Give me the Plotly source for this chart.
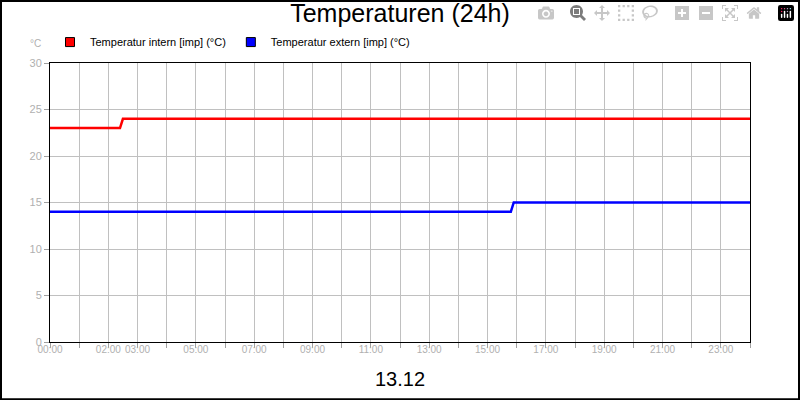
import plotly.graph_objects as go

intern_x = [0, 2.4, 2.5, 24]
intern_y = [23, 23, 24, 24]
extern_x = [0, 15.8, 15.9, 24]
extern_y = [14, 14, 15, 15]
tick_hours = [0, 2, 3, 5, 7, 9, 11, 13, 15, 17, 19, 21, 23]
tick_labels = ["00:00", "02:00", "03:00", "05:00", "07:00", "09:00", "11:00",
               "13:00", "15:00", "17:00", "19:00", "21:00", "23:00"]
names = ["Temperatur intern [imp] (°C)", "Temperatur extern [imp] (°C)"]
colors = ["#ff0000", "#0000ff"]

fig = go.Figure()
for xs, ys, c in [(intern_x, intern_y, colors[0]), (extern_x, extern_y, colors[1])]:
    fig.add_trace(go.Scatter(x=xs, y=ys, mode="lines", line=dict(color=c, width=2.5),
                             showlegend=False))
for n, c in zip(names, colors):
    fig.add_trace(go.Scatter(x=[None], y=[None], mode="markers", name=n,
                             marker=dict(symbol="square", size=9, color=c,
                                         line=dict(color="black", width=1))))

font = "Liberation Sans, Arial, sans-serif"
fig.update_layout(
    width=800, height=400,
    margin=dict(l=50, r=50, t=63, b=58),
    paper_bgcolor="white", plot_bgcolor="white",
    font=dict(family=font),
    title=dict(text="Temperaturen (24h)", x=0.5, xanchor="center", y=0.99, yanchor="top",
               font=dict(size=25, color="black", family=font)),
    showlegend=True,
    legend=dict(orientation="h", x=0.0, y=1.075, xanchor="left", yanchor="middle",
                font=dict(size=11, color="black"), itemwidth=30, tracegroupgap=0),
    xaxis=dict(range=[0, 24], dtick=1, tick0=0, showgrid=True, gridcolor="#c0c0c0",
               showticklabels=False, ticks="outside", ticklen=5, tickcolor="#a0a0a0",
               showline=True, linecolor="black", mirror=True, zeroline=False),
    xaxis2=dict(range=[0, 24], overlaying="x", side="bottom", tickmode="array",
                tickvals=tick_hours, ticktext=tick_labels, showgrid=False, tickangle=0,
                tickfont=dict(size=10, color="#b0b0b0"), showline=False, zeroline=False,
                ticklen=0, anchor="y"),
    yaxis=dict(range=[0, 30], dtick=5, showgrid=True, gridcolor="#c0c0c0",
               tickfont=dict(size=11, color="#b0b0b0"), ticks="outside", ticklen=5,
               tickcolor="#a0a0a0", showline=True, linecolor="black", mirror=True,
               zeroline=False),
    annotations=[
        dict(text="°C", x=-0.01, y=1.07, xref="paper", yref="paper", xanchor="right",
             yanchor="middle", showarrow=False, font=dict(size=10, color="#b0b0b0")),
        dict(text="13.12", x=0.5, y=-0.085, xref="paper", yref="paper", xanchor="center",
             yanchor="top", showarrow=False, font=dict(size=20, color="black")),
    ],
    shapes=[dict(type="rect", xref="paper", yref="paper", x0=-0.0700, x1=1.0700,
                 y0=-0.205, y1=1.222, line=dict(color="black", width=2))],
)
fig.add_trace(go.Scatter(x=[0, 24], y=[None, None], xaxis="x2", showlegend=False,
                         hoverinfo="skip"))
fig.write_html("out.html",
               post_script="document.body.style.margin='0';document.body.style.overflow='hidden';")
